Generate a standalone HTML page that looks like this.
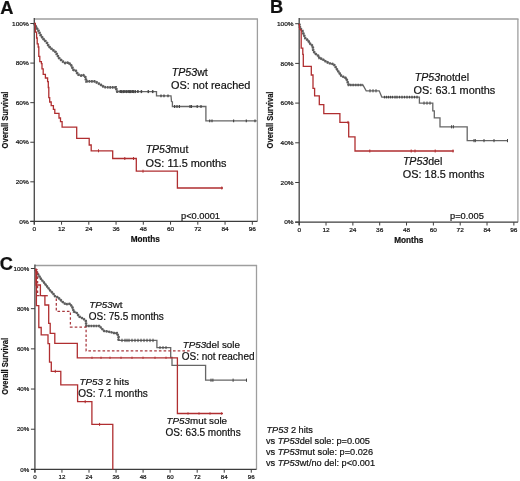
<!DOCTYPE html><html><head><meta charset="utf-8"><style>html,body{margin:0;padding:0;background:#fff;}svg{display:block;will-change:transform;}text{font-family:"Liberation Sans", sans-serif;fill:#111;stroke:#111;stroke-width:0.2px;}</style></head><body>
<svg width="520" height="481" viewBox="0 0 520 481">
<rect width="520" height="481" fill="#fff"/>
<line x1="34.30" y1="19.00" x2="258.00" y2="19.00" stroke="#9e9e9e" stroke-width="1.6"/>
<line x1="257.40" y1="19.00" x2="257.40" y2="221.40" stroke="#9e9e9e" stroke-width="1.3"/>
<line x1="34.30" y1="18.10" x2="34.30" y2="224.40" stroke="#505050" stroke-width="1.4"/>
<line x1="30.30" y1="221.40" x2="257.40" y2="221.40" stroke="#3c3c3c" stroke-width="1.2"/>
<line x1="30.30" y1="221.40" x2="34.30" y2="221.40" stroke="#3c3c3c" stroke-width="1"/>
<text x="0" y="0" font-size="6.2" text-anchor="end" fill="#2a2a2a" transform="translate(28.70,223.63) scale(1.05,1)">0%</text>
<line x1="30.30" y1="181.82" x2="34.30" y2="181.82" stroke="#3c3c3c" stroke-width="1"/>
<text x="0" y="0" font-size="6.2" text-anchor="end" fill="#2a2a2a" transform="translate(28.70,184.05) scale(1.05,1)">20%</text>
<line x1="30.30" y1="142.24" x2="34.30" y2="142.24" stroke="#3c3c3c" stroke-width="1"/>
<text x="0" y="0" font-size="6.2" text-anchor="end" fill="#2a2a2a" transform="translate(28.70,144.47) scale(1.05,1)">40%</text>
<line x1="30.30" y1="102.66" x2="34.30" y2="102.66" stroke="#3c3c3c" stroke-width="1"/>
<text x="0" y="0" font-size="6.2" text-anchor="end" fill="#2a2a2a" transform="translate(28.70,104.89) scale(1.05,1)">60%</text>
<line x1="30.30" y1="63.08" x2="34.30" y2="63.08" stroke="#3c3c3c" stroke-width="1"/>
<text x="0" y="0" font-size="6.2" text-anchor="end" fill="#2a2a2a" transform="translate(28.70,65.31) scale(1.05,1)">80%</text>
<line x1="30.30" y1="23.50" x2="34.30" y2="23.50" stroke="#3c3c3c" stroke-width="1"/>
<text x="0" y="0" font-size="6.2" text-anchor="end" fill="#2a2a2a" transform="translate(28.70,25.73) scale(1.05,1)">100%</text>
<line x1="34.30" y1="221.40" x2="34.30" y2="224.70" stroke="#3c3c3c" stroke-width="1"/>
<text x="0" y="0" font-size="6.2" text-anchor="middle" fill="#2a2a2a" transform="translate(34.30,231.00) scale(1.05,1)">0</text>
<line x1="61.55" y1="221.40" x2="61.55" y2="224.70" stroke="#3c3c3c" stroke-width="1"/>
<text x="0" y="0" font-size="6.2" text-anchor="middle" fill="#2a2a2a" transform="translate(61.55,231.00) scale(1.05,1)">12</text>
<line x1="88.80" y1="221.40" x2="88.80" y2="224.70" stroke="#3c3c3c" stroke-width="1"/>
<text x="0" y="0" font-size="6.2" text-anchor="middle" fill="#2a2a2a" transform="translate(88.80,231.00) scale(1.05,1)">24</text>
<line x1="116.06" y1="221.40" x2="116.06" y2="224.70" stroke="#3c3c3c" stroke-width="1"/>
<text x="0" y="0" font-size="6.2" text-anchor="middle" fill="#2a2a2a" transform="translate(116.06,231.00) scale(1.05,1)">36</text>
<line x1="143.31" y1="221.40" x2="143.31" y2="224.70" stroke="#3c3c3c" stroke-width="1"/>
<text x="0" y="0" font-size="6.2" text-anchor="middle" fill="#2a2a2a" transform="translate(143.31,231.00) scale(1.05,1)">48</text>
<line x1="170.56" y1="221.40" x2="170.56" y2="224.70" stroke="#3c3c3c" stroke-width="1"/>
<text x="0" y="0" font-size="6.2" text-anchor="middle" fill="#2a2a2a" transform="translate(170.56,231.00) scale(1.05,1)">60</text>
<line x1="197.81" y1="221.40" x2="197.81" y2="224.70" stroke="#3c3c3c" stroke-width="1"/>
<text x="0" y="0" font-size="6.2" text-anchor="middle" fill="#2a2a2a" transform="translate(197.81,231.00) scale(1.05,1)">72</text>
<line x1="225.06" y1="221.40" x2="225.06" y2="224.70" stroke="#3c3c3c" stroke-width="1"/>
<text x="0" y="0" font-size="6.2" text-anchor="middle" fill="#2a2a2a" transform="translate(225.06,231.00) scale(1.05,1)">84</text>
<line x1="252.32" y1="221.40" x2="252.32" y2="224.70" stroke="#3c3c3c" stroke-width="1"/>
<text x="0" y="0" font-size="6.2" text-anchor="middle" fill="#2a2a2a" transform="translate(252.32,231.00) scale(1.05,1)">96</text>
<text x="-28.4" y="0" font-size="8.3" font-weight="bold" textLength="56.8" lengthAdjust="spacingAndGlyphs" transform="translate(7.60,120.00) rotate(-90)">Overall Survival</text>
<text x="130.80" y="242.30" font-size="8.2" font-weight="bold" text-anchor="start" >Months</text>
<text x="0.30" y="13.60" font-size="18.3" font-weight="bold" text-anchor="start" >A</text>
<line x1="299.20" y1="19.00" x2="518.50" y2="19.00" stroke="#9e9e9e" stroke-width="1.6"/>
<line x1="517.90" y1="19.00" x2="517.90" y2="222.20" stroke="#9e9e9e" stroke-width="1.3"/>
<line x1="299.20" y1="18.10" x2="299.20" y2="225.20" stroke="#505050" stroke-width="1.4"/>
<line x1="295.20" y1="222.20" x2="517.90" y2="222.20" stroke="#3c3c3c" stroke-width="1.2"/>
<line x1="295.20" y1="222.20" x2="299.20" y2="222.20" stroke="#3c3c3c" stroke-width="1"/>
<text x="0" y="0" font-size="6.2" text-anchor="end" fill="#2a2a2a" transform="translate(293.60,224.43) scale(1.05,1)">0%</text>
<line x1="295.20" y1="182.50" x2="299.20" y2="182.50" stroke="#3c3c3c" stroke-width="1"/>
<text x="0" y="0" font-size="6.2" text-anchor="end" fill="#2a2a2a" transform="translate(293.60,184.73) scale(1.05,1)">20%</text>
<line x1="295.20" y1="142.80" x2="299.20" y2="142.80" stroke="#3c3c3c" stroke-width="1"/>
<text x="0" y="0" font-size="6.2" text-anchor="end" fill="#2a2a2a" transform="translate(293.60,145.03) scale(1.05,1)">40%</text>
<line x1="295.20" y1="103.10" x2="299.20" y2="103.10" stroke="#3c3c3c" stroke-width="1"/>
<text x="0" y="0" font-size="6.2" text-anchor="end" fill="#2a2a2a" transform="translate(293.60,105.33) scale(1.05,1)">60%</text>
<line x1="295.20" y1="63.40" x2="299.20" y2="63.40" stroke="#3c3c3c" stroke-width="1"/>
<text x="0" y="0" font-size="6.2" text-anchor="end" fill="#2a2a2a" transform="translate(293.60,65.63) scale(1.05,1)">80%</text>
<line x1="295.20" y1="23.70" x2="299.20" y2="23.70" stroke="#3c3c3c" stroke-width="1"/>
<text x="0" y="0" font-size="6.2" text-anchor="end" fill="#2a2a2a" transform="translate(293.60,25.93) scale(1.05,1)">100%</text>
<line x1="299.20" y1="222.20" x2="299.20" y2="225.50" stroke="#3c3c3c" stroke-width="1"/>
<text x="0" y="0" font-size="6.2" text-anchor="middle" fill="#2a2a2a" transform="translate(299.20,231.80) scale(1.05,1)">0</text>
<line x1="326.03" y1="222.20" x2="326.03" y2="225.50" stroke="#3c3c3c" stroke-width="1"/>
<text x="0" y="0" font-size="6.2" text-anchor="middle" fill="#2a2a2a" transform="translate(326.03,231.80) scale(1.05,1)">12</text>
<line x1="352.86" y1="222.20" x2="352.86" y2="225.50" stroke="#3c3c3c" stroke-width="1"/>
<text x="0" y="0" font-size="6.2" text-anchor="middle" fill="#2a2a2a" transform="translate(352.86,231.80) scale(1.05,1)">24</text>
<line x1="379.70" y1="222.20" x2="379.70" y2="225.50" stroke="#3c3c3c" stroke-width="1"/>
<text x="0" y="0" font-size="6.2" text-anchor="middle" fill="#2a2a2a" transform="translate(379.70,231.80) scale(1.05,1)">36</text>
<line x1="406.53" y1="222.20" x2="406.53" y2="225.50" stroke="#3c3c3c" stroke-width="1"/>
<text x="0" y="0" font-size="6.2" text-anchor="middle" fill="#2a2a2a" transform="translate(406.53,231.80) scale(1.05,1)">48</text>
<line x1="433.36" y1="222.20" x2="433.36" y2="225.50" stroke="#3c3c3c" stroke-width="1"/>
<text x="0" y="0" font-size="6.2" text-anchor="middle" fill="#2a2a2a" transform="translate(433.36,231.80) scale(1.05,1)">60</text>
<line x1="460.19" y1="222.20" x2="460.19" y2="225.50" stroke="#3c3c3c" stroke-width="1"/>
<text x="0" y="0" font-size="6.2" text-anchor="middle" fill="#2a2a2a" transform="translate(460.19,231.80) scale(1.05,1)">72</text>
<line x1="487.02" y1="222.20" x2="487.02" y2="225.50" stroke="#3c3c3c" stroke-width="1"/>
<text x="0" y="0" font-size="6.2" text-anchor="middle" fill="#2a2a2a" transform="translate(487.02,231.80) scale(1.05,1)">84</text>
<line x1="513.86" y1="222.20" x2="513.86" y2="225.50" stroke="#3c3c3c" stroke-width="1"/>
<text x="0" y="0" font-size="6.2" text-anchor="middle" fill="#2a2a2a" transform="translate(513.86,231.80) scale(1.05,1)">96</text>
<text x="-28.4" y="0" font-size="8.3" font-weight="bold" textLength="56.8" lengthAdjust="spacingAndGlyphs" transform="translate(273.00,120.00) rotate(-90)">Overall Survival</text>
<text x="394.30" y="243.00" font-size="8.2" font-weight="bold" text-anchor="start" >Months</text>
<text x="270.00" y="13.40" font-size="18.3" font-weight="bold" text-anchor="start" >B</text>
<line x1="34.90" y1="265.50" x2="257.10" y2="265.50" stroke="#9e9e9e" stroke-width="1.6"/>
<line x1="256.50" y1="265.50" x2="256.50" y2="469.40" stroke="#9e9e9e" stroke-width="1.3"/>
<line x1="34.90" y1="264.60" x2="34.90" y2="472.40" stroke="#505050" stroke-width="1.4"/>
<line x1="30.90" y1="469.40" x2="256.50" y2="469.40" stroke="#3c3c3c" stroke-width="1.2"/>
<line x1="30.90" y1="469.40" x2="34.90" y2="469.40" stroke="#3c3c3c" stroke-width="1"/>
<text x="0" y="0" font-size="5.9" text-anchor="end" fill="#2a2a2a" transform="translate(29.30,471.52) scale(1.05,1)">0%</text>
<line x1="30.90" y1="429.22" x2="34.90" y2="429.22" stroke="#3c3c3c" stroke-width="1"/>
<text x="0" y="0" font-size="5.9" text-anchor="end" fill="#2a2a2a" transform="translate(29.30,431.34) scale(1.05,1)">20%</text>
<line x1="30.90" y1="389.04" x2="34.90" y2="389.04" stroke="#3c3c3c" stroke-width="1"/>
<text x="0" y="0" font-size="5.9" text-anchor="end" fill="#2a2a2a" transform="translate(29.30,391.16) scale(1.05,1)">40%</text>
<line x1="30.90" y1="348.86" x2="34.90" y2="348.86" stroke="#3c3c3c" stroke-width="1"/>
<text x="0" y="0" font-size="5.9" text-anchor="end" fill="#2a2a2a" transform="translate(29.30,350.98) scale(1.05,1)">60%</text>
<line x1="30.90" y1="308.68" x2="34.90" y2="308.68" stroke="#3c3c3c" stroke-width="1"/>
<text x="0" y="0" font-size="5.9" text-anchor="end" fill="#2a2a2a" transform="translate(29.30,310.80) scale(1.05,1)">80%</text>
<line x1="30.90" y1="268.50" x2="34.90" y2="268.50" stroke="#3c3c3c" stroke-width="1"/>
<text x="0" y="0" font-size="5.9" text-anchor="end" fill="#2a2a2a" transform="translate(29.30,270.62) scale(1.05,1)">100%</text>
<line x1="34.90" y1="469.40" x2="34.90" y2="472.70" stroke="#3c3c3c" stroke-width="1"/>
<text x="0" y="0" font-size="5.9" text-anchor="middle" fill="#2a2a2a" transform="translate(34.90,479.00) scale(1.05,1)">0</text>
<line x1="61.95" y1="469.40" x2="61.95" y2="472.70" stroke="#3c3c3c" stroke-width="1"/>
<text x="0" y="0" font-size="5.9" text-anchor="middle" fill="#2a2a2a" transform="translate(61.95,479.00) scale(1.05,1)">12</text>
<line x1="89.00" y1="469.40" x2="89.00" y2="472.70" stroke="#3c3c3c" stroke-width="1"/>
<text x="0" y="0" font-size="5.9" text-anchor="middle" fill="#2a2a2a" transform="translate(89.00,479.00) scale(1.05,1)">24</text>
<line x1="116.04" y1="469.40" x2="116.04" y2="472.70" stroke="#3c3c3c" stroke-width="1"/>
<text x="0" y="0" font-size="5.9" text-anchor="middle" fill="#2a2a2a" transform="translate(116.04,479.00) scale(1.05,1)">36</text>
<line x1="143.09" y1="469.40" x2="143.09" y2="472.70" stroke="#3c3c3c" stroke-width="1"/>
<text x="0" y="0" font-size="5.9" text-anchor="middle" fill="#2a2a2a" transform="translate(143.09,479.00) scale(1.05,1)">48</text>
<line x1="170.14" y1="469.40" x2="170.14" y2="472.70" stroke="#3c3c3c" stroke-width="1"/>
<text x="0" y="0" font-size="5.9" text-anchor="middle" fill="#2a2a2a" transform="translate(170.14,479.00) scale(1.05,1)">60</text>
<line x1="197.19" y1="469.40" x2="197.19" y2="472.70" stroke="#3c3c3c" stroke-width="1"/>
<text x="0" y="0" font-size="5.9" text-anchor="middle" fill="#2a2a2a" transform="translate(197.19,479.00) scale(1.05,1)">72</text>
<line x1="224.24" y1="469.40" x2="224.24" y2="472.70" stroke="#3c3c3c" stroke-width="1"/>
<text x="0" y="0" font-size="5.9" text-anchor="middle" fill="#2a2a2a" transform="translate(224.24,479.00) scale(1.05,1)">84</text>
<line x1="251.28" y1="469.40" x2="251.28" y2="472.70" stroke="#3c3c3c" stroke-width="1"/>
<text x="0" y="0" font-size="5.9" text-anchor="middle" fill="#2a2a2a" transform="translate(251.28,479.00) scale(1.05,1)">96</text>
<text x="-28.4" y="0" font-size="8.3" font-weight="bold" textLength="56.8" lengthAdjust="spacingAndGlyphs" transform="translate(8.00,366.40) rotate(-90)">Overall Survival</text>
<text x="-0.20" y="269.60" font-size="18.3" font-weight="bold" text-anchor="start" >C</text>
<polyline points="34.30,23.50 36.25,27.20 38.30,30.50 40.40,34.70 43.30,38.80 47.10,43.00 48.75,46.30 52.50,49.70 55.50,51.90 58.80,57.70 62.20,61.10 65.10,63.00 68.50,62.50 71.30,65.40 73.30,69.70 75.70,70.70 78.10,74.50 81.00,75.50 83.40,75.20 85.30,76.90 86.30,81.30 94.40,81.30 98.30,83.20 102.10,85.60 104.00,87.20 115.80,87.40 116.50,89.50 117.30,91.60 156.50,91.60 156.50,95.80 171.00,95.80 171.50,101.50 172.40,101.80 172.40,106.50 205.90,106.50 205.90,120.80 256.80,120.80" fill="none" stroke="#666666" stroke-width="1.3" stroke-linejoin="miter" />
<polyline points="34.30,23.50 36.25,27.20 38.30,30.50 40.40,34.70 43.30,38.80 47.10,43.00 48.75,46.30 52.50,49.70 55.50,51.90 58.80,57.70 62.20,61.10 65.10,63.00 68.50,62.50 71.30,65.40 73.30,69.70 75.70,70.70 78.10,74.50 81.00,75.50 83.40,75.20 85.30,76.90 86.30,81.30 94.40,81.30 98.30,83.20 102.10,85.60 104.00,87.20 115.80,87.40 116.50,89.50 117.30,91.60 119.00,91.60" fill="none" stroke="#5c5c5c" stroke-width="2.7" stroke-linejoin="miter" stroke-dasharray="1.7 0.8"/>
<line x1="120.20" y1="90.10" x2="120.20" y2="93.10" stroke="#454545" stroke-width="1.5"/>
<line x1="121.70" y1="90.10" x2="121.70" y2="93.10" stroke="#454545" stroke-width="1.5"/>
<line x1="123.30" y1="90.10" x2="123.30" y2="93.10" stroke="#454545" stroke-width="1.5"/>
<line x1="124.90" y1="90.10" x2="124.90" y2="93.10" stroke="#454545" stroke-width="1.5"/>
<line x1="126.50" y1="90.10" x2="126.50" y2="93.10" stroke="#454545" stroke-width="1.5"/>
<line x1="128.10" y1="90.10" x2="128.10" y2="93.10" stroke="#454545" stroke-width="1.5"/>
<line x1="129.40" y1="90.10" x2="129.40" y2="93.10" stroke="#454545" stroke-width="1.5"/>
<line x1="130.70" y1="90.10" x2="130.70" y2="93.10" stroke="#454545" stroke-width="1.5"/>
<line x1="132.20" y1="90.10" x2="132.20" y2="93.10" stroke="#454545" stroke-width="1.5"/>
<line x1="133.60" y1="90.10" x2="133.60" y2="93.10" stroke="#454545" stroke-width="1.5"/>
<line x1="135.30" y1="90.10" x2="135.30" y2="93.10" stroke="#454545" stroke-width="1.5"/>
<line x1="137.90" y1="90.10" x2="137.90" y2="93.10" stroke="#454545" stroke-width="1.5"/>
<line x1="141.40" y1="90.10" x2="141.40" y2="93.10" stroke="#454545" stroke-width="1.5"/>
<line x1="148.30" y1="90.10" x2="148.30" y2="93.10" stroke="#454545" stroke-width="1.5"/>
<line x1="152.70" y1="90.10" x2="152.70" y2="93.10" stroke="#454545" stroke-width="1.5"/>
<line x1="161.00" y1="94.40" x2="161.00" y2="97.20" stroke="#454545" stroke-width="1.3"/>
<line x1="164.00" y1="94.40" x2="164.00" y2="97.20" stroke="#454545" stroke-width="1.3"/>
<line x1="168.00" y1="94.40" x2="168.00" y2="97.20" stroke="#454545" stroke-width="1.3"/>
<line x1="174.60" y1="105.00" x2="174.60" y2="108.00" stroke="#454545" stroke-width="1.2"/>
<line x1="177.00" y1="105.00" x2="177.00" y2="108.00" stroke="#454545" stroke-width="1.2"/>
<line x1="179.40" y1="105.00" x2="179.40" y2="108.00" stroke="#454545" stroke-width="1.2"/>
<line x1="190.00" y1="105.00" x2="190.00" y2="108.00" stroke="#454545" stroke-width="1.2"/>
<line x1="191.40" y1="105.00" x2="191.40" y2="108.00" stroke="#454545" stroke-width="1.2"/>
<line x1="197.20" y1="105.00" x2="197.20" y2="108.00" stroke="#454545" stroke-width="1.2"/>
<line x1="201.00" y1="105.00" x2="201.00" y2="108.00" stroke="#454545" stroke-width="1.2"/>
<line x1="209.70" y1="119.40" x2="209.70" y2="122.20" stroke="#454545" stroke-width="1.2"/>
<line x1="212.00" y1="119.40" x2="212.00" y2="122.20" stroke="#454545" stroke-width="1.2"/>
<line x1="233.60" y1="119.40" x2="233.60" y2="122.20" stroke="#454545" stroke-width="1.2"/>
<line x1="246.30" y1="119.40" x2="246.30" y2="122.20" stroke="#454545" stroke-width="1.2"/>
<line x1="255.00" y1="119.40" x2="255.00" y2="122.20" stroke="#454545" stroke-width="1.2"/>
<polyline points="34.30,23.50 35.30,23.50 35.30,32.20 36.60,32.20 36.60,38.00 37.20,38.00 37.20,43.90 38.20,43.90 38.20,47.00 38.80,47.00 38.80,56.40 39.80,56.40 39.80,61.60 41.40,61.60 41.40,63.70 42.00,63.70 42.00,68.90 43.20,68.90 43.20,74.40 45.40,74.40 45.40,78.00 47.60,78.00 47.60,81.60 48.30,81.60 48.30,87.50 48.80,87.50 48.80,97.70 49.70,97.70 49.70,102.00 51.20,102.00 51.20,105.70 53.40,105.70 53.40,109.30 54.80,109.30 54.80,113.30 59.00,113.30 59.00,118.00 60.50,118.00 60.50,121.70 62.10,121.70 62.10,127.10 76.70,127.10 76.70,138.30 89.20,138.30 89.20,145.00 91.20,145.00 91.20,150.80 112.70,150.80 112.70,158.50 136.30,158.50 136.30,171.20 177.40,171.20 177.40,188.00 223.00,188.00 223.00,188.00" fill="none" stroke="#b02e30" stroke-width="1.3" stroke-linejoin="miter" />
<line x1="98.50" y1="149.30" x2="98.50" y2="152.30" stroke="#b02e30" stroke-width="1"/>
<line x1="124.80" y1="157.00" x2="124.80" y2="160.00" stroke="#b02e30" stroke-width="1"/>
<line x1="133.50" y1="157.00" x2="133.50" y2="160.00" stroke="#b02e30" stroke-width="1"/>
<line x1="143.00" y1="169.70" x2="143.00" y2="172.70" stroke="#b02e30" stroke-width="1"/>
<line x1="221.80" y1="186.50" x2="221.80" y2="189.50" stroke="#b02e30" stroke-width="1"/>
<text x="171.80" y="75.50" font-size="10.6" font-weight="normal" text-anchor="start" ><tspan font-style="italic">TP53</tspan>wt</text>
<text x="171.00" y="88.70" font-size="10.9" font-weight="normal" text-anchor="start" >OS: not reached</text>
<text x="145.70" y="153.30" font-size="10.5" font-weight="normal" text-anchor="start" ><tspan font-style="italic">TP53</tspan>mut</text>
<text x="145.60" y="167.30" font-size="10.9" font-weight="normal" text-anchor="start" >OS: 11.5 months</text>
<text x="181.00" y="218.50" font-size="9.3" font-weight="normal" text-anchor="start" >p&lt;0.0001</text>
<polyline points="299.30,23.70 300.20,28.40 302.30,30.50 303.80,34.60 305.40,38.30 308.00,40.30 310.00,43.50 312.70,46.10 313.20,50.20 314.80,53.30 318.40,55.90 319.60,58.30 322.50,59.00 324.60,60.80 326.20,61.70 329.60,63.30 333.80,64.20 337.90,70.80 341.30,75.80 346.30,78.30 348.70,85.00 362.90,85.00 366.20,90.80 379.20,90.80 381.80,97.10 419.40,97.10 419.40,103.10 432.80,103.10 432.80,110.80 434.30,110.80 434.30,117.80 440.00,117.80 440.00,126.80 467.20,126.80 467.20,140.60 507.90,140.60" fill="none" stroke="#666666" stroke-width="1.3" stroke-linejoin="miter" />
<polyline points="299.30,23.70 300.20,28.40 302.30,30.50 303.80,34.60 305.40,38.30 308.00,40.30 310.00,43.50 312.70,46.10 313.20,50.20 314.80,53.30 318.40,55.90 319.60,58.30 322.50,59.00 324.60,60.80 326.20,61.70 329.60,63.30 333.80,64.20 337.90,70.80 341.30,75.80 346.30,78.30 348.70,85.00 362.90,85.00" fill="none" stroke="#5c5c5c" stroke-width="2.6" stroke-linejoin="miter" stroke-dasharray="1.7 0.8"/>
<line x1="384.50" y1="95.80" x2="384.50" y2="98.40" stroke="#454545" stroke-width="1.3"/>
<line x1="386.50" y1="95.80" x2="386.50" y2="98.40" stroke="#454545" stroke-width="1.3"/>
<line x1="388.50" y1="95.80" x2="388.50" y2="98.40" stroke="#454545" stroke-width="1.3"/>
<line x1="390.50" y1="95.80" x2="390.50" y2="98.40" stroke="#454545" stroke-width="1.3"/>
<line x1="392.50" y1="95.80" x2="392.50" y2="98.40" stroke="#454545" stroke-width="1.3"/>
<line x1="395.00" y1="95.80" x2="395.00" y2="98.40" stroke="#454545" stroke-width="1.3"/>
<line x1="397.00" y1="95.80" x2="397.00" y2="98.40" stroke="#454545" stroke-width="1.3"/>
<line x1="399.50" y1="95.80" x2="399.50" y2="98.40" stroke="#454545" stroke-width="1.3"/>
<line x1="402.00" y1="95.80" x2="402.00" y2="98.40" stroke="#454545" stroke-width="1.3"/>
<line x1="404.50" y1="95.80" x2="404.50" y2="98.40" stroke="#454545" stroke-width="1.3"/>
<line x1="407.00" y1="95.80" x2="407.00" y2="98.40" stroke="#454545" stroke-width="1.3"/>
<line x1="409.50" y1="95.80" x2="409.50" y2="98.40" stroke="#454545" stroke-width="1.3"/>
<line x1="412.00" y1="95.80" x2="412.00" y2="98.40" stroke="#454545" stroke-width="1.3"/>
<line x1="414.50" y1="95.80" x2="414.50" y2="98.40" stroke="#454545" stroke-width="1.3"/>
<line x1="417.00" y1="95.80" x2="417.00" y2="98.40" stroke="#454545" stroke-width="1.3"/>
<line x1="370.00" y1="89.20" x2="370.00" y2="92.40" stroke="#454545" stroke-width="1"/>
<line x1="373.00" y1="89.20" x2="373.00" y2="92.40" stroke="#454545" stroke-width="1"/>
<line x1="376.00" y1="89.20" x2="376.00" y2="92.40" stroke="#454545" stroke-width="1"/>
<line x1="424.00" y1="101.50" x2="424.00" y2="104.70" stroke="#454545" stroke-width="1"/>
<line x1="427.00" y1="101.50" x2="427.00" y2="104.70" stroke="#454545" stroke-width="1"/>
<line x1="430.00" y1="101.50" x2="430.00" y2="104.70" stroke="#454545" stroke-width="1"/>
<line x1="451.60" y1="125.20" x2="451.60" y2="128.40" stroke="#454545" stroke-width="1"/>
<line x1="453.40" y1="125.20" x2="453.40" y2="128.40" stroke="#454545" stroke-width="1"/>
<line x1="474.00" y1="139.00" x2="474.00" y2="142.20" stroke="#454545" stroke-width="1"/>
<line x1="475.30" y1="139.00" x2="475.30" y2="142.20" stroke="#454545" stroke-width="1"/>
<line x1="484.00" y1="139.00" x2="484.00" y2="142.20" stroke="#454545" stroke-width="1"/>
<line x1="494.00" y1="139.00" x2="494.00" y2="142.20" stroke="#454545" stroke-width="1"/>
<line x1="507.50" y1="139.00" x2="507.50" y2="142.20" stroke="#454545" stroke-width="1"/>
<polyline points="299.30,23.70 299.70,29.40 301.20,30.00 301.20,48.10 302.80,48.10 302.80,54.40 303.30,54.40 303.30,66.30 311.30,66.30 311.30,75.00 313.00,75.00 313.00,88.30 314.60,88.30 314.60,95.80 319.30,95.80 319.30,104.60 323.80,104.60 323.80,113.60 339.90,113.60 339.90,122.40 348.70,122.40 348.70,136.90 355.00,136.90 355.00,151.00 453.80,151.00" fill="none" stroke="#b02e30" stroke-width="1.3" stroke-linejoin="miter" />
<line x1="348.00" y1="120.90" x2="348.00" y2="123.90" stroke="#b02e30" stroke-width="1"/>
<line x1="369.80" y1="149.50" x2="369.80" y2="152.50" stroke="#b02e30" stroke-width="1"/>
<line x1="411.20" y1="149.50" x2="411.20" y2="152.50" stroke="#b02e30" stroke-width="1"/>
<line x1="415.00" y1="149.50" x2="415.00" y2="152.50" stroke="#b02e30" stroke-width="1"/>
<line x1="435.20" y1="149.50" x2="435.20" y2="152.50" stroke="#b02e30" stroke-width="1"/>
<line x1="453.00" y1="149.50" x2="453.00" y2="152.50" stroke="#b02e30" stroke-width="1"/>
<text x="414.80" y="80.60" font-size="10.6" font-weight="normal" text-anchor="start" ><tspan font-style="italic">TP53</tspan>notdel</text>
<text x="413.60" y="94.20" font-size="10.9" font-weight="normal" text-anchor="start" >OS: 63.1 months</text>
<text x="402.90" y="165.00" font-size="10.6" font-weight="normal" text-anchor="start" ><tspan font-style="italic">TP53</tspan>del</text>
<text x="402.80" y="178.10" font-size="10.9" font-weight="normal" text-anchor="start" >OS: 18.5 months</text>
<text x="450.00" y="219.20" font-size="9.3" font-weight="normal" text-anchor="start" >p=0.005</text>
<polyline points="35.00,269.50 38.30,274.50 40.80,278.70 44.20,282.80 47.50,287.00 50.00,290.30 53.30,293.70 55.00,296.20 58.30,297.50 61.70,301.20 65.80,304.40 69.60,303.80 72.10,306.30 73.75,311.50 76.70,312.90 79.20,316.50 83.30,318.70 85.80,320.80 86.30,325.90 99.40,325.90 101.30,328.10 104.20,331.00 110.00,331.90 114.80,333.30 116.90,333.00 118.50,336.50 118.50,340.40 156.90,340.40 156.90,347.60 170.70,347.60 170.70,357.50 172.00,357.50 172.00,365.40 205.60,365.40 205.60,380.20 246.90,380.20" fill="none" stroke="#666666" stroke-width="1.3" stroke-linejoin="miter" />
<polyline points="35.00,269.50 38.30,274.50 40.80,278.70 44.20,282.80 47.50,287.00 50.00,290.30 53.30,293.70 55.00,296.20 58.30,297.50 61.70,301.20 65.80,304.40 69.60,303.80 72.10,306.30 73.75,311.50 76.70,312.90 79.20,316.50 83.30,318.70 85.80,320.80 86.30,325.90 99.40,325.90 101.30,328.10 104.20,331.00 110.00,331.90 114.80,333.30 116.90,333.00 118.50,336.50 118.50,340.40" fill="none" stroke="#5c5c5c" stroke-width="2.5" stroke-linejoin="miter" stroke-dasharray="1.7 0.8"/>
<line x1="122.00" y1="338.70" x2="122.00" y2="342.10" stroke="#454545" stroke-width="1"/>
<line x1="125.00" y1="338.70" x2="125.00" y2="342.10" stroke="#454545" stroke-width="1"/>
<line x1="127.00" y1="338.70" x2="127.00" y2="342.10" stroke="#454545" stroke-width="1"/>
<line x1="129.00" y1="338.70" x2="129.00" y2="342.10" stroke="#454545" stroke-width="1"/>
<line x1="132.00" y1="338.70" x2="132.00" y2="342.10" stroke="#454545" stroke-width="1"/>
<line x1="135.00" y1="338.70" x2="135.00" y2="342.10" stroke="#454545" stroke-width="1"/>
<line x1="138.00" y1="338.70" x2="138.00" y2="342.10" stroke="#454545" stroke-width="1"/>
<line x1="141.00" y1="338.70" x2="141.00" y2="342.10" stroke="#454545" stroke-width="1"/>
<line x1="144.00" y1="338.70" x2="144.00" y2="342.10" stroke="#454545" stroke-width="1"/>
<line x1="147.00" y1="338.70" x2="147.00" y2="342.10" stroke="#454545" stroke-width="1"/>
<line x1="150.00" y1="338.70" x2="150.00" y2="342.10" stroke="#454545" stroke-width="1"/>
<line x1="153.00" y1="338.70" x2="153.00" y2="342.10" stroke="#454545" stroke-width="1"/>
<line x1="160.00" y1="346.10" x2="160.00" y2="349.10" stroke="#454545" stroke-width="1"/>
<line x1="163.00" y1="346.10" x2="163.00" y2="349.10" stroke="#454545" stroke-width="1"/>
<line x1="166.00" y1="346.10" x2="166.00" y2="349.10" stroke="#454545" stroke-width="1"/>
<line x1="211.00" y1="378.60" x2="211.00" y2="381.80" stroke="#454545" stroke-width="1"/>
<line x1="212.90" y1="378.60" x2="212.90" y2="381.80" stroke="#454545" stroke-width="1"/>
<line x1="233.10" y1="378.60" x2="233.10" y2="381.80" stroke="#454545" stroke-width="1"/>
<line x1="246.50" y1="378.60" x2="246.50" y2="381.80" stroke="#454545" stroke-width="1"/>
<polyline points="35.00,269.50 36.40,269.50 36.40,305.60 38.80,305.60 38.80,327.50 41.20,327.50 41.20,334.90 48.00,334.90 48.00,343.60 49.50,343.60 49.50,362.20 51.30,362.20 51.30,371.30 60.80,371.30 60.80,384.90 77.60,384.90 77.60,401.70 91.90,401.70 91.90,424.40 112.80,424.40 112.80,469.40" fill="none" stroke="#b02e30" stroke-width="1.3" stroke-linejoin="miter" />
<line x1="55.30" y1="369.80" x2="55.30" y2="372.80" stroke="#b02e30" stroke-width="1"/>
<line x1="85.20" y1="400.20" x2="85.20" y2="403.20" stroke="#b02e30" stroke-width="1"/>
<line x1="99.60" y1="422.90" x2="99.60" y2="425.90" stroke="#b02e30" stroke-width="1"/>
<polyline points="44.90,295.70 47.80,295.70" fill="none" stroke="#b02e30" stroke-width="1.3" stroke-linejoin="miter" />
<polyline points="35.00,269.50 36.00,269.50 36.00,285.00 40.40,285.00 40.40,295.70 44.90,295.70 44.90,305.00 48.70,305.00 48.70,323.30 50.20,323.30 50.20,333.40 54.80,333.40 54.80,343.30 77.30,343.30 77.30,357.80 177.40,357.80 177.40,413.50 223.00,413.50" fill="none" stroke="#b02e30" stroke-width="1.3" stroke-linejoin="miter" />
<line x1="92.00" y1="356.60" x2="92.00" y2="359.00" stroke="#b02e30" stroke-width="0.9"/>
<line x1="101.00" y1="356.60" x2="101.00" y2="359.00" stroke="#b02e30" stroke-width="0.9"/>
<line x1="110.00" y1="356.60" x2="110.00" y2="359.00" stroke="#b02e30" stroke-width="0.9"/>
<line x1="121.00" y1="356.60" x2="121.00" y2="359.00" stroke="#b02e30" stroke-width="0.9"/>
<line x1="132.00" y1="356.60" x2="132.00" y2="359.00" stroke="#b02e30" stroke-width="0.9"/>
<line x1="143.00" y1="356.60" x2="143.00" y2="359.00" stroke="#b02e30" stroke-width="0.9"/>
<line x1="155.00" y1="356.60" x2="155.00" y2="359.00" stroke="#b02e30" stroke-width="0.9"/>
<line x1="166.00" y1="356.60" x2="166.00" y2="359.00" stroke="#b02e30" stroke-width="0.9"/>
<line x1="188.00" y1="412.30" x2="188.00" y2="414.70" stroke="#b02e30" stroke-width="0.9"/>
<line x1="199.00" y1="412.30" x2="199.00" y2="414.70" stroke="#b02e30" stroke-width="0.9"/>
<line x1="210.00" y1="412.30" x2="210.00" y2="414.70" stroke="#b02e30" stroke-width="0.9"/>
<line x1="221.50" y1="412.30" x2="221.50" y2="414.70" stroke="#b02e30" stroke-width="0.9"/>
<polyline points="35.00,269.50 37.60,269.50 37.60,295.70 44.90,295.70" fill="none" stroke="#a8383e" stroke-width="1.25" stroke-linejoin="miter" stroke-dasharray="2.6 2.1"/>
<polyline points="56.30,298.40 56.30,311.30 70.40,311.30 70.40,327.00 86.10,327.00 86.10,350.90 191.60,350.90" fill="none" stroke="#a8383e" stroke-width="1.25" stroke-linejoin="miter" stroke-dasharray="2.6 2.1"/>
<text x="89.30" y="308.20" font-size="9.8" font-weight="normal" text-anchor="start" ><tspan font-style="italic">TP53</tspan>wt</text>
<text x="88.80" y="320.40" font-size="10" font-weight="normal" text-anchor="start" >OS: 75.5 months</text>
<text x="182.70" y="348.20" font-size="9.8" font-weight="normal" text-anchor="start" ><tspan font-style="italic">TP53</tspan>del sole</text>
<text x="181.70" y="360.30" font-size="10" font-weight="normal" text-anchor="start" >OS: not reached</text>
<text x="79.50" y="385.00" font-size="9.8" font-weight="normal" text-anchor="start" ><tspan font-style="italic">TP53</tspan> 2 hits</text>
<text x="78.30" y="396.90" font-size="10" font-weight="normal" text-anchor="start" >OS: 7.1 months</text>
<text x="166.60" y="423.90" font-size="9.8" font-weight="normal" text-anchor="start" ><tspan font-style="italic">TP53</tspan>mut sole</text>
<text x="165.60" y="436.30" font-size="10" font-weight="normal" text-anchor="start" >OS: 63.5 months</text>
<text x="266.40" y="432.70" font-size="9.2" font-weight="normal" text-anchor="start" ><tspan font-style="italic">TP53</tspan> 2 hits</text>
<text x="266.00" y="444.00" font-size="9.2" font-weight="normal" text-anchor="start" >vs <tspan font-style="italic">TP53</tspan>del sole: p=0.005</text>
<text x="266.00" y="454.70" font-size="9.2" font-weight="normal" text-anchor="start" >vs <tspan font-style="italic">TP53</tspan>mut sole: p=0.026</text>
<text x="266.00" y="465.50" font-size="9.2" font-weight="normal" text-anchor="start" >vs <tspan font-style="italic">TP53</tspan>wt/no del: p&lt;0.001</text>
</svg></body></html>
